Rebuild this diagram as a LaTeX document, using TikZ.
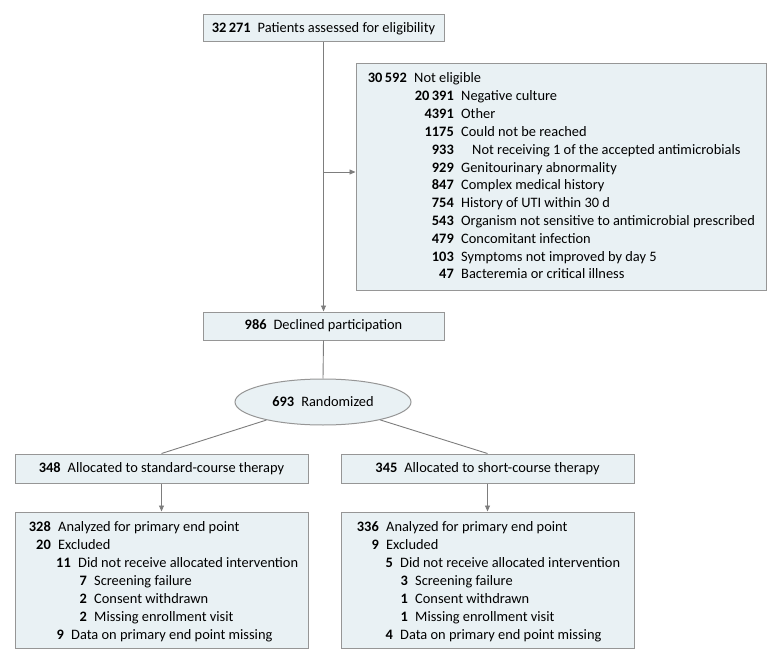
\documentclass[tikz,border=0pt]{standalone}
\usepackage{fontspec}
\setmainfont{Carlito}
\usetikzlibrary{shapes.geometric,arrows.meta}
\definecolor{boxfill}{RGB}{233,241,244}
\definecolor{boxline}{RGB}{150,150,150}
\definecolor{connc}{RGB}{125,125,125}
\tikzset{
  every node/.style={font=\fontsize{14.4pt}{17pt}\selectfont, text=black},
  box/.style={draw=boxline, fill=boxfill, line width=1pt, inner sep=0pt, rectangle},
  ellbox/.style={draw=boxline, fill=boxfill, line width=1pt, inner sep=0pt, ellipse},
  conn/.style={draw=connc, line width=0.9pt},
  arr/.style={conn, -{Triangle[length=6pt,width=5pt]}},
  num/.style={anchor=base east, inner sep=0pt, font=\fontsize{14.4pt}{17pt}\selectfont\bfseries},
  txt/.style={anchor=base west, inner sep=0pt, xshift=7pt},
}
\newcommand{\gp}{\hspace{7pt}}
\newcommand{\rowitem}[5]{%
  \node[num] (#1n) at (#2,#3) {#4};
  \node[txt] (#1t) at (#1n.base east) {#5};}
\begin{document}
\begin{tikzpicture}[x=1pt,y=-1pt]
\useasboundingbox (0,0) rectangle (780,661);

% main boxes
\node[box, minimum width=241pt, minimum height=27pt] (top) at (323.5,28.5)
  {\textbf{32\,271}\gp Patients assessed for eligibility};
\node[box, minimum width=410pt, minimum height=226pt] (ne) at (561,177) {};
\node[box, minimum width=241pt, minimum height=28pt] (dec) at (323.5,326)
  {\textbf{986}\gp Declined participation};
\node[ellbox, minimum width=176pt, minimum height=46pt] (ell) at (323,402)
  {\textbf{693}\gp Randomized};
\node[box, minimum width=293pt, minimum height=29pt] (a1) at (161.5,468.5)
  {\textbf{348}\gp Allocated to standard-course therapy};
\node[box, minimum width=293pt, minimum height=29pt] (a2) at (487.5,468.5)
  {\textbf{345}\gp Allocated to short-course therapy};
\node[box, minimum width=293pt, minimum height=136pt] (b1) at (161.5,580) {};
\node[box, minimum width=293pt, minimum height=136pt] (b2) at (487.5,580) {};

% connectors
\coordinate (br) at (top.south |- 0,172);
\draw[arr] (top.south) -- (dec.north);
\draw[arr] (br) -- (br -| ne.west);
\draw[conn] (dec.south) -- (ell.north);
\draw[conn] (ell) -- (a1.north);
\draw[conn] (ell) -- (a2.north);
\draw[arr] (a1.south) -- (b1.north);
\draw[arr] (a2.south) -- (b2.north);

% not eligible list
\rowitem{r1}{407}{83}{30\,592}{Not eligible}
\rowitem{r2}{454}{100.8}{20\,391}{Negative culture}
\rowitem{r3}{454}{118.6}{4391}{Other}
\rowitem{r4}{454}{136.4}{1175}{Could not be reached}
\node[num] (r5n) at (454,154.2) {933};
\node[txt, xshift=11pt] (r5t) at (r5n.base east) {Not receiving 1 of the accepted antimicrobials};
\rowitem{r6}{454}{172}{929}{Genitourinary abnormality}
\rowitem{r7}{454}{189.8}{847}{Complex medical history}
\rowitem{r8}{454}{207.6}{754}{History of UTI within 30 d}
\rowitem{r9}{454}{225.4}{543}{Organism not sensitive to antimicrobial prescribed}
\rowitem{r10}{454}{243.2}{479}{Concomitant infection}
\rowitem{r11}{454}{261}{103}{Symptoms not improved by day 5}
\rowitem{r12}{454}{278.8}{47}{Bacteremia or critical illness}

% standard-course analysis
\rowitem{s1}{51}{531}{328}{Analyzed for primary end point}
\rowitem{s2}{51}{549}{20}{Excluded}
\rowitem{s3}{71}{567}{11}{Did not receive allocated intervention}
\rowitem{s4}{87}{585}{7}{Screening failure}
\rowitem{s5}{87}{603}{2}{Consent withdrawn}
\rowitem{s6}{87}{621}{2}{Missing enrollment visit}
\rowitem{s7}{64}{639}{9}{Data on primary end point missing}

% short-course analysis
\rowitem{c1}{379}{531}{336}{Analyzed for primary end point}
\rowitem{c2}{379}{549}{9}{Excluded}
\rowitem{c3}{393}{567}{5}{Did not receive allocated intervention}
\rowitem{c4}{408}{585}{3}{Screening failure}
\rowitem{c5}{408}{603}{1}{Consent withdrawn}
\rowitem{c6}{408}{621}{1}{Missing enrollment visit}
\rowitem{c7}{393}{639}{4}{Data on primary end point missing}
\end{tikzpicture}
\end{document}
